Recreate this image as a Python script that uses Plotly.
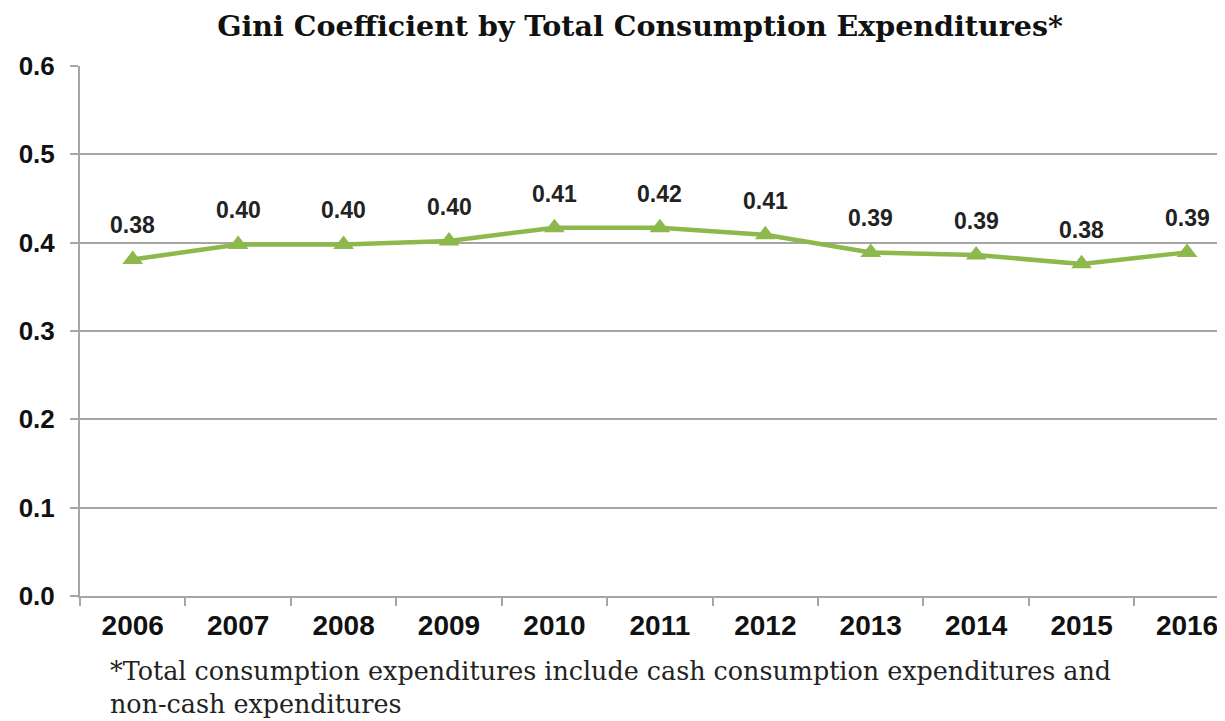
import plotly.graph_objects as go

years = ["2006", "2007", "2008", "2009", "2010", "2011", "2012", "2013", "2014", "2015", "2016"]
gini = [0.381, 0.398, 0.398, 0.402, 0.417, 0.417, 0.409, 0.389, 0.386, 0.376, 0.389]
labels = ["0.38", "0.40", "0.40", "0.40", "0.41", "0.42", "0.41", "0.39", "0.39", "0.38", "0.39"]
y_ticks = [0.0, 0.1, 0.2, 0.3, 0.4, 0.5, 0.6]
y_tick_text = ["0.0", "0.1", "0.2", "0.3", "0.4", "0.5", "0.6"]

green = "#8cb84c"
grid = "#a6a6a6"

# page body has an 8px margin: figure is sized/offset to fill the 1225x721 window
W, H = 1217, 713
L, T, B = 72, 58, 125

fig = go.Figure()
fig.add_trace(go.Scatter(
    x=years, y=gini, mode="lines+markers",
    line=dict(color=green, width=4.5),
    marker=dict(symbol="triangle-up", size=18, color=green),
    showlegend=False, hoverinfo="skip",
))

for i, (v, t) in enumerate(zip(gini, labels)):
    fig.add_annotation(x=i, y=v, text="<b>%s</b>" % t, showarrow=False, yshift=34,
                       font=dict(family="Liberation Sans", size=23, color="#222"))

fig.update_layout(
    width=W, height=H,
    margin=dict(l=L, r=0, t=T, b=B),
    paper_bgcolor="white", plot_bgcolor="white",
    title=dict(text="<b>Gini Coefficient by Total Consumption Expenditures*</b>",
               x=632 / W, xanchor="center", y=1 - 18 / H, yanchor="middle",
               font=dict(family="DejaVu Serif", size=28.5, color="#111")),
    xaxis=dict(
        type="category", range=[-0.5, 10.36],
        showgrid=False, showline=True, linecolor=grid, linewidth=2,
        ticks="outside", tickson="boundaries", ticklen=8, tickcolor=grid, tickwidth=2,
        tickfont=dict(family="Liberation Sans", size=28, color="#111"),
        tickprefix="<b>", ticksuffix="</b>",
        ticklabelstandoff=3,
    ),
    yaxis=dict(
        range=[0, 0.6], tickvals=y_ticks,
        ticktext=["<b>%s</b>" % s for s in y_tick_text],
        showgrid=True, gridcolor=grid, gridwidth=2,
        showline=True, linecolor=grid, linewidth=2,
        ticks="outside", ticklen=8, tickcolor=grid, tickwidth=2,
        tickfont=dict(family="Liberation Sans", size=26, color="#111"),
        ticklabelstandoff=10,
        zeroline=False,
    ),
    font=dict(family="Liberation Sans"),
)

fig.add_annotation(
    xref="paper", yref="paper", x=(100 - L) / (W - L), y=(H - B - 646) / (H - T - B),
    xanchor="left", yanchor="top", align="left", showarrow=False,
    text="*Total consumption expenditures include cash consumption expenditures and<br>non-cash expenditures",
    font=dict(family="DejaVu Serif", size=25.4, color="#222"),
)

fig.write_html("out.html")
